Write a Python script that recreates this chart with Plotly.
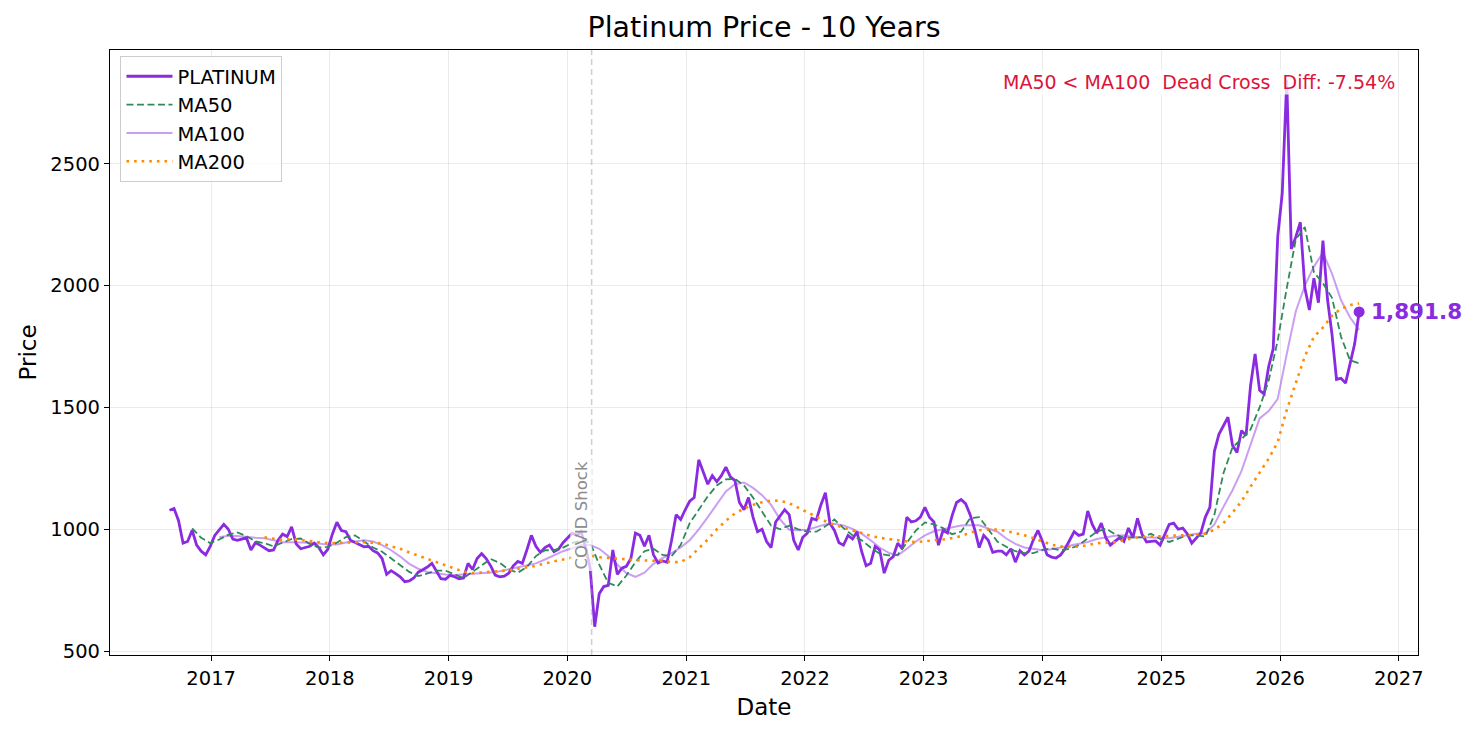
import pandas as pd
import plotly.graph_objects as go

# platinum closing price, sampled about every two weeks (2016-08 .. 2026-09)
platinum = [
    1078, 1085, 1035, 943, 950, 996, 935, 910, 895, 930, 975, 1000, 1020,
    1000, 960, 955, 960, 965, 915, 945, 935, 922, 912, 915, 955, 980,
    970, 1010, 940, 920, 925, 930, 943, 925, 895, 918, 980, 1029, 995,
    990, 955, 945, 938, 928, 930, 912, 903, 880, 815, 830, 818, 805,
    785, 788, 800, 824, 834, 845, 860, 828, 797, 795, 811, 805, 797,
    800, 860, 835, 880, 900, 880, 850, 812, 805, 808, 820, 850, 868,
    860, 915, 975, 930, 905, 925, 935, 908, 918, 945, 963, 984, 975,
    990, 925, 840, 600, 735, 765, 770, 915, 815, 840, 848, 880, 984,
    975, 930, 975, 895, 862, 870, 865, 955, 1060, 1040, 1080, 1115, 1130,
    1285, 1235, 1185, 1220, 1195, 1220, 1255, 1215, 1200, 1110, 1080, 1130, 1050,
    990, 1000, 950, 925, 1030, 1055, 1080, 1060, 955, 915, 967, 984, 1045,
    1038, 1100, 1150, 1025, 995, 945, 935, 975, 960, 990, 910, 850, 860,
    930, 915, 820, 873, 888, 943, 920, 1050, 1030, 1035, 1050, 1090, 1050,
    1030, 935, 995, 985, 1055, 1110, 1122, 1105, 1060, 1000, 925, 975, 955,
    905, 910, 910, 895, 920, 865, 912, 895, 910, 958, 995, 950, 895,
    886, 882, 895, 920, 955, 990, 975, 980, 1075, 1020, 984, 1025, 965,
    935, 950, 965, 950, 1005, 967, 1045, 980, 948, 950, 952, 935, 980,
    1020, 1025, 1000, 1005, 982, 943, 965, 985, 1050, 1090, 1320, 1390, 1425,
    1460, 1345, 1315, 1405, 1385, 1590, 1720, 1570, 1555, 1668, 1740, 2200, 2380,
    2845, 2150, 2200, 2260, 1990, 1900, 2030, 1930, 2185, 1945, 1800, 1615, 1620,
    1600, 1680, 1760, 1891.8,
]

# moving averages, every fourth week, each ending on the last date
ma50 = [
    1004, 965, 943, 958, 978, 987, 972, 950, 943, 930,
    945, 960, 962, 940, 925, 928, 945, 968, 975, 950,
    925, 908, 880, 852, 825, 808, 818, 830, 830, 815,
    800, 825, 850, 878, 862, 835, 822, 845, 890, 914,
    914, 925, 943, 955, 945, 855, 780, 765, 810, 865,
    910, 920, 895, 890, 935, 1025, 1080, 1135, 1180, 1205,
    1207, 1180, 1130, 1075, 1015, 1000, 1015, 1000, 990, 990,
    1012, 1040, 1005, 975, 955, 925, 900, 893, 895, 945,
    995, 1028, 1020, 1005, 980, 990, 1045, 1050, 1000, 950,
    928, 910, 902, 902, 915, 922, 914, 920, 935, 963,
    990, 1003, 980, 965, 967, 967, 982, 960, 948, 962,
    975, 975, 970, 1060, 1230, 1336, 1370, 1410, 1500, 1610,
    1775, 1990, 2190, 2240, 2055, 2010, 1950, 1790, 1693, 1681,
]
ma100 = [
    967, 973, 972, 967, 965, 963, 955, 947, 947, 947,
    945, 942, 937, 938, 946, 950, 955, 950, 935, 914,
    888, 858, 838, 825, 818, 814, 812, 814, 817, 820,
    823, 828, 836, 842, 850, 860, 876, 893, 910, 922,
    935, 935, 920, 890, 855, 820, 805, 822, 858, 882,
    902, 925, 955, 1000, 1050, 1100, 1155, 1185, 1192, 1170,
    1140, 1100, 1040, 998, 996, 998, 1008, 1020, 1023, 1016,
    1002, 982, 955, 925, 903, 893, 920, 950, 975, 992,
    1000, 1008, 1015, 1016, 1016, 1003, 990, 962, 940, 925,
    918, 914, 918, 925, 932, 940, 948, 960, 968, 973,
    975, 968, 967, 967, 965, 963, 970, 976, 982, 984,
    1020, 1092, 1160, 1240, 1350, 1455, 1485, 1535, 1720, 1895,
    2000, 2078, 2135, 2049, 1940, 1869, 1818,
]
ma200 = [
    967, 960, 956, 960, 956, 950, 946, 943, 944, 947,
    947, 947, 946, 942, 930, 920, 905, 892, 878, 865,
    854, 840, 826, 820, 822, 824, 828, 832, 837, 843,
    850, 860, 868, 878, 886, 892, 892, 885, 882, 881,
    877, 873, 873, 873, 870, 866, 865, 885, 920, 958,
    1000, 1035, 1065, 1085, 1100, 1111, 1118, 1117, 1107, 1088,
    1068, 1049, 1033, 1018, 1007, 993, 983, 973, 965, 959,
    955, 950, 947, 950, 954, 958, 964, 972, 986, 996,
    999, 999, 993, 985, 975, 963, 950, 937, 929, 927,
    928, 935, 943, 945, 947, 955, 964, 968, 970, 972,
    975, 975, 975, 977, 982, 998, 1025, 1068, 1115, 1175,
    1235, 1290, 1358, 1490, 1600, 1710, 1790, 1828, 1877, 1905,
    1920, 1927,
]

start_date = "2016-08-26"
end_date = "2026-09-01"
covid_date = "2020-03-16"
signal_text = "MA50 &lt; MA100\u00a0\u00a0Dead Cross\u00a0\u00a0Diff: -7.54%"

price_dates = pd.date_range(start_date, end_date, periods=len(platinum))
ma_dates = price_dates[::-1][::2][::-1]

PURPLE = "#8a2be2"
FONT = "DejaVu Sans"

fig = go.Figure()
fig.add_trace(go.Scatter(x=price_dates, y=platinum, mode="lines", name="PLATINUM",
                         line=dict(color=PURPLE, width=2.8)))
fig.add_trace(go.Scatter(x=ma_dates[-len(ma50):], y=ma50, mode="lines", name="MA50",
                         line=dict(color="#2e8b57", width=1.8, dash="7px,3.5px")))
fig.add_trace(go.Scatter(x=ma_dates[-len(ma100):], y=ma100, mode="lines", name="MA100",
                         line=dict(color="rgba(138,43,226,0.45)", width=2)))
fig.add_trace(go.Scatter(x=ma_dates[-len(ma200):], y=ma200, mode="lines", name="MA200",
                         line=dict(color="#ff8c00", width=2.6, dash="2.6px,5px")))
# last price dot
fig.add_trace(go.Scatter(x=[price_dates[-1]], y=[platinum[-1]], mode="markers",
                         marker=dict(color=PURPLE, size=11), showlegend=False,
                         cliponaxis=False))

fig.add_shape(type="line", x0=covid_date, x1=covid_date, y0=0, y1=1,
              xref="x", yref="paper",
              line=dict(color="rgba(150,150,150,0.45)", width=1.6, dash="6px,4px"))

fig.add_annotation(x=covid_date, y=1057, text="COVID Shock", textangle=-90,
                   showarrow=False, xanchor="right", yanchor="middle", xshift=1,
                   bgcolor="rgba(255,255,255,0.7)",
                   font=dict(family=FONT, size=16.5, color="#8c8c8c"))
fig.add_annotation(x=price_dates[-1], y=platinum[-1],
                   text="<b>{:,.1f}</b>".format(platinum[-1]),
                   showarrow=False, xanchor="left", yanchor="middle", xshift=10,
                   font=dict(family=FONT, size=21.5, color=PURPLE))
fig.add_annotation(x=0.984, y=0.947, xref="paper", yref="paper", text=signal_text,
                   showarrow=False, xanchor="right", yanchor="middle",
                   bgcolor="rgba(255,255,255,0.8)",
                   font=dict(family=FONT, size=19, color="#dc143c"))

# the page adds an 8px offset, so margins are shifted to keep the frame in place
fig.update_layout(
    width=1476, height=735,
    margin=dict(l=102, r=66, t=42, b=88),
    paper_bgcolor="white", plot_bgcolor="white",
    font=dict(family=FONT, size=19.5, color="black"),
    title=dict(text="Platinum Price - 10 Years", x=0.5, xref="paper", xanchor="center",
               y=0.974, yanchor="middle", font=dict(size=28.5)),
    showlegend=True,
    legend=dict(x=0.008, y=0.99, xanchor="left", yanchor="top",
                bgcolor="rgba(255,255,255,0.8)", bordercolor="#cccccc", borderwidth=1,
                font=dict(size=19.5), itemwidth=46, tracegroupgap=0),
)
fig.update_xaxes(
    type="date", range=["2016-02-25", "2027-03-01"],
    tick0="2017-01-01", dtick="M12", tickformat="%Y",
    title=dict(text="Date", standoff=10),
    showline=True, mirror=True, linecolor="black", linewidth=1.2,
    ticks="outside", ticklen=5, tickwidth=1.2, tickcolor="black",
    showgrid=True, gridcolor="rgba(0,0,0,0.08)", gridwidth=1, zeroline=False,
)
fig.update_yaxes(
    range=[484, 2967], tick0=500, dtick=500,
    title=dict(text="Price", standoff=7),
    showline=True, mirror=True, linecolor="black", linewidth=1.2,
    ticks="outside", ticklen=5, tickwidth=1.2, tickcolor="black",
    showgrid=True, gridcolor="rgba(0,0,0,0.08)", gridwidth=1, zeroline=False,
)

fig.write_html("out.html")
